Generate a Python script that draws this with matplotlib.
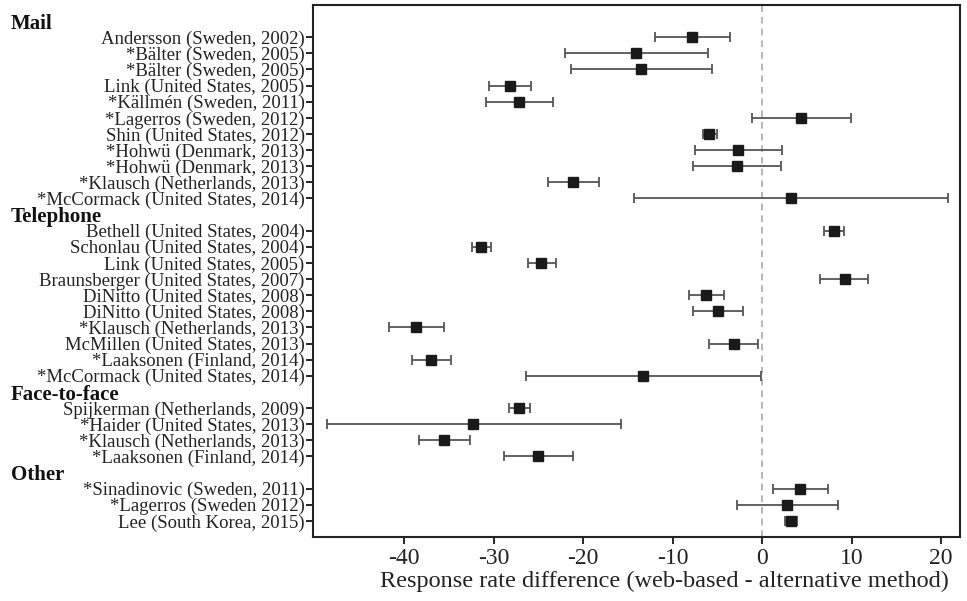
import matplotlib
matplotlib.use("Agg")
import matplotlib.pyplot as plt
from matplotlib.transforms import blended_transform_factory
import numpy as np

plt.rcParams["font.family"] = ["Liberation Serif", "DejaVu Serif"]

# groups of studies
groups = ["Mail", "Telephone", "Face-to-face", "Other"]

mail_labels = ["Andersson (Sweden, 2002)", "*Bälter (Sweden, 2005)", "*Bälter (Sweden, 2005)",
               "Link (United States, 2005)", "*Källmén (Sweden, 2011)", "*Lagerros (Sweden, 2012)",
               "Shin (United States, 2012)", "*Hohwü (Denmark, 2013)", "*Hohwü (Denmark, 2013)",
               "*Klausch (Netherlands, 2013)", "*McCormack (United States, 2014)"]
mail_est = [-7.8, -14.1, -13.5, -28.2, -27.2, 4.3, -5.9, -2.7, -2.8, -21.1, 3.2]
mail_lo = [-12.0, -22.0, -21.4, -30.5, -30.9, -1.2, -6.6, -7.5, -7.7, -23.9, -14.3]
mail_hi = [-3.6, -6.1, -5.6, -25.8, -23.4, 9.9, -5.1, 2.2, 2.1, -18.2, 20.8]

tel_labels = ["Bethell (United States, 2004)", "Schonlau (United States, 2004)",
              "Link (United States, 2005)", "Braunsberger (United States, 2007)",
              "DiNitto (United States, 2008)", "DiNitto (United States, 2008)",
              "*Klausch (Netherlands, 2013)", "McMillen (United States, 2013)",
              "*Laaksonen (Finland, 2014)", "*McCormack (United States, 2014)"]
tel_est = [8.0, -31.4, -24.7, 9.2, -6.3, -5.0, -38.7, -3.2, -37.0, -13.3]
tel_lo = [6.9, -32.4, -26.2, 6.5, -8.2, -7.7, -41.7, -5.9, -39.1, -26.4]
tel_hi = [9.1, -30.3, -23.1, 11.8, -4.3, -2.2, -35.6, -0.5, -34.8, -0.1]

f2f_labels = ["Spijkerman (Netherlands, 2009)", "*Haider (United States, 2013)",
              "*Klausch (Netherlands, 2013)", "*Laaksonen (Finland, 2014)"]
f2f_est = [-27.2, -32.3, -35.6, -25.1]
f2f_lo = [-28.3, -48.6, -38.4, -28.9]
f2f_hi = [-26.0, -15.8, -32.7, -21.2]

other_labels = ["*Sinadinovic (Sweden, 2011)", "*Lagerros (Sweden 2012)", "Lee (South Korea, 2015)"]
other_est = [4.2, 2.8, 3.2]
other_lo = [1.2, -2.8, 2.5]
other_hi = [7.3, 8.5, 3.9]

xticks = [-40, -30, -20, -10, 0, 10, 20]

fig = plt.figure(figsize=(9.67, 6.01), dpi=100)
ax = fig.add_axes([0.3237, 0.1065, 0.6691, 0.8852])

blocks = [(mail_labels, mail_est, mail_lo, mail_hi),
          (tel_labels, tel_est, tel_lo, tel_hi),
          (f2f_labels, f2f_est, f2f_lo, f2f_hi),
          (other_labels, other_est, other_lo, other_hi)]

trans = blended_transform_factory(fig.transFigure, ax.transData)
ypos, ylabels = [], []
row = 0
for name, (labs, est, lo, hi) in zip(groups, blocks):
    ax.text(0.011, row + 0.18, name, transform=trans, fontsize=15, fontweight="bold",
            ha="left", va="center", color="#111111")
    row += 1
    ys = np.arange(row, row + len(labs))
    est = np.array(est)
    err = [est - np.array(lo), np.array(hi) - est]
    ax.errorbar(est, ys, xerr=err, fmt="none", ecolor="#555555", elinewidth=1.3,
                capsize=3.8, capthick=1.3, zorder=2)
    ax.plot(est, ys, "s", color="#1a1a1a", markersize=6.5, zorder=3)
    ypos.extend(ys)
    ylabels.extend(labs)
    row += len(labs)

ax.axvline(0, color="#aaaaaa", linestyle=(0, (4, 3)), linewidth=1.2, zorder=1)

ax.set_yticks(ypos)
ax.set_yticklabels(ylabels, fontsize=13.5, color="#222222")
ax.set_ylim(row, -1)
ax.set_xlim(-50.2, 22.1)
ax.set_xticks(xticks)
ax.set_xticklabels([str(t) for t in xticks], fontsize=17, color="#222222")
ax.tick_params(axis="y", length=5, width=1.2, pad=1)
ax.tick_params(axis="x", length=5, width=1.2, pad=3)
ax.set_xlabel("Response rate difference (web-based - alternative method)", fontsize=17.5,
              color="#222222")
ax.xaxis.set_label_coords(0.543, -0.064)
for s in ax.spines.values():
    s.set_linewidth(1.5)
    s.set_color("#222222")

fig.savefig("out.png", dpi=100)
